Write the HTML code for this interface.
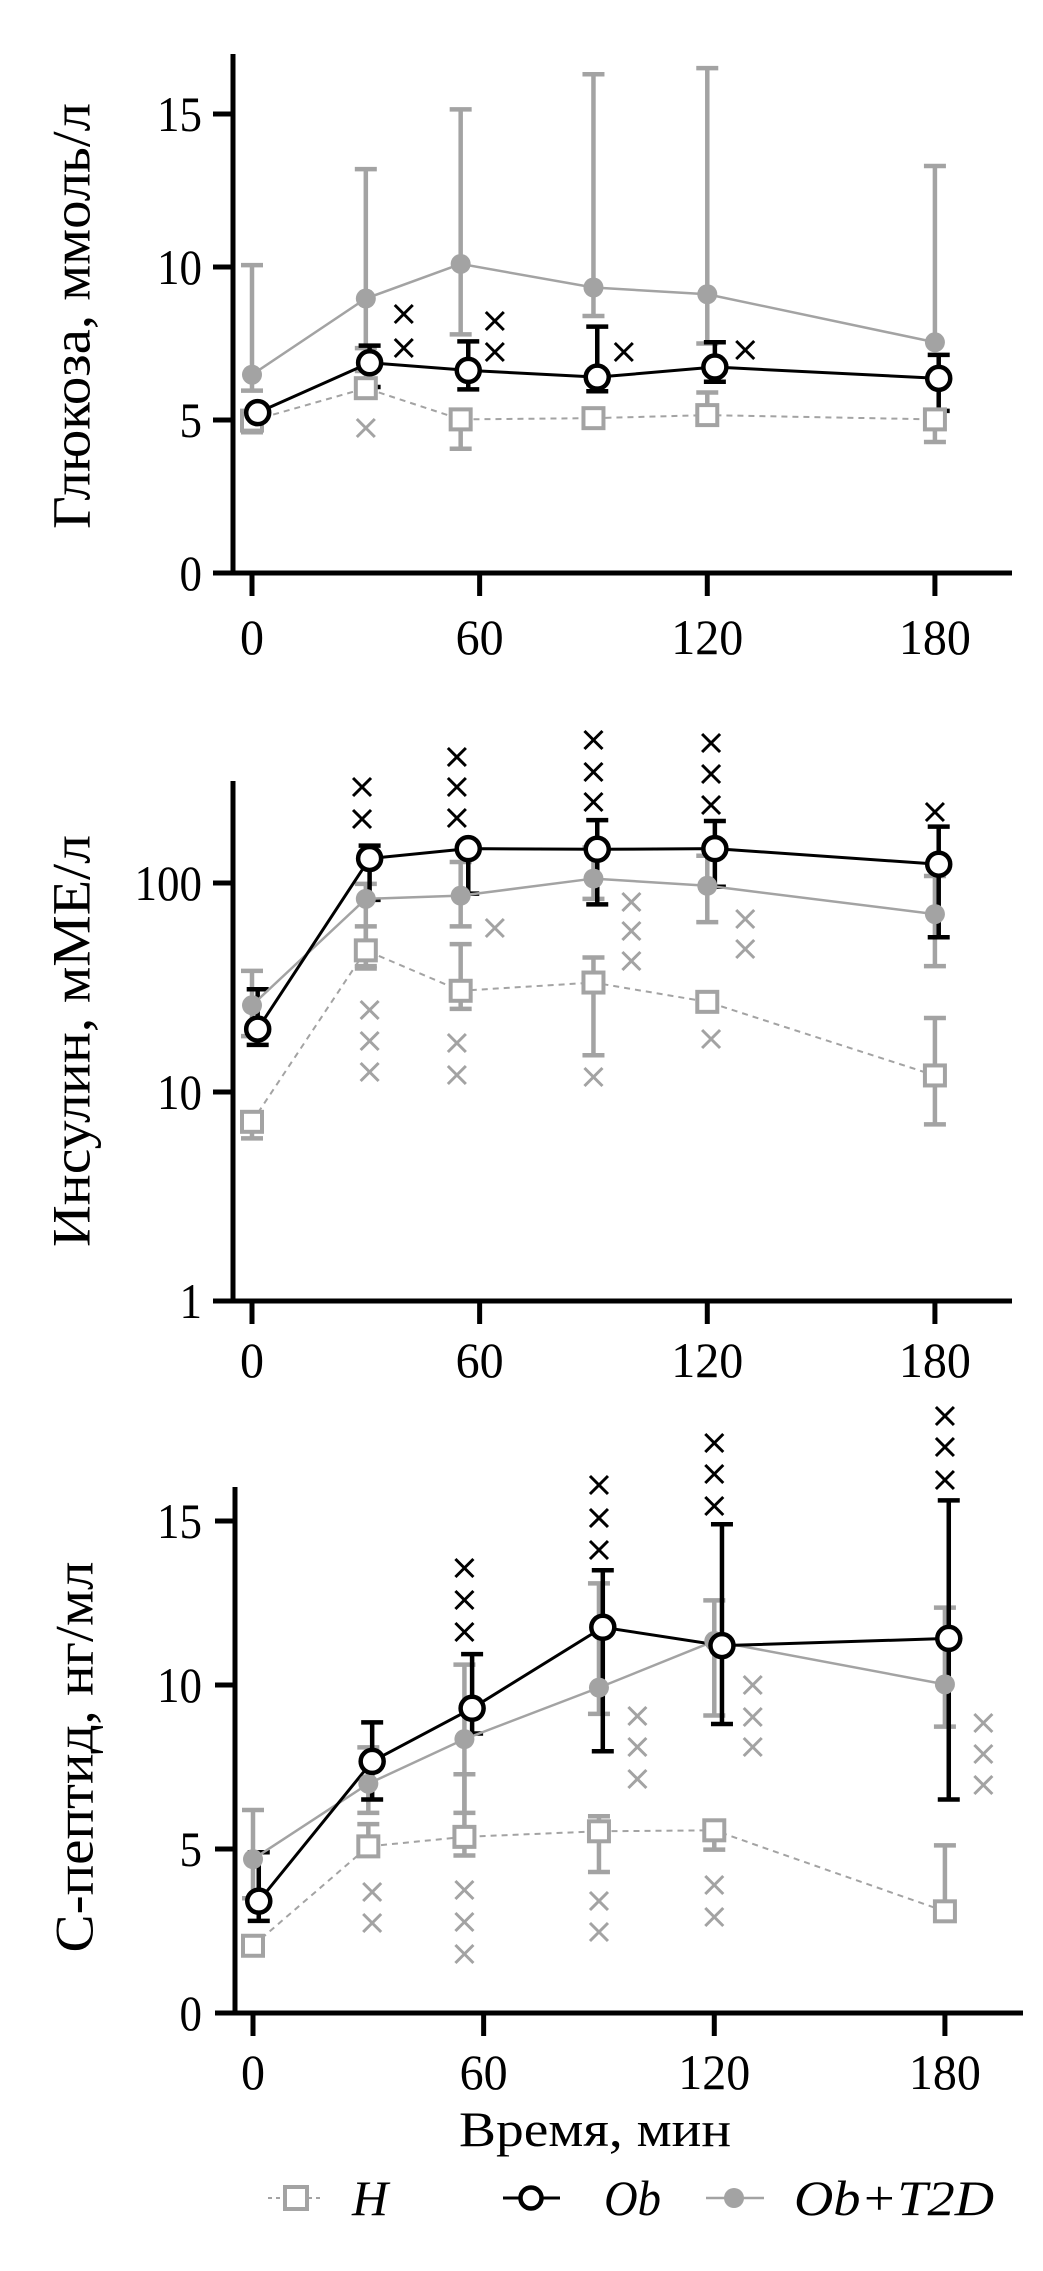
<!DOCTYPE html>
<html><head><meta charset="utf-8"><style>
html,body{margin:0;padding:0;background:#fff;}
svg{display:block;}
text{font-family:"Liberation Serif",serif;fill:#000;}
</style></head><body>
<svg id="chart" width="1043" height="2271" viewBox="0 0 1043 2271" xmlns="http://www.w3.org/2000/svg"></svg>
<script>
// ---- data ----
const timesH = [0,30,55,90,120,180];
const timesOb = [1.5,31,57,91,122,181];
const timesT = [0,30,55,90,120,180];
// glucose
const gluH = [4.98,6.04,5.02,5.06,5.16,5.02];
const gluHlo = [4.6,null,4.06,null,null,4.28];
const gluHhi = [null,6.6,null,null,5.9,null];
const gluOb = [5.24,6.87,6.62,6.4,6.73,6.36];
const gluOblo = [null,6.08,6.0,5.94,6.25,5.3];
const gluObhi = [null,7.43,7.57,8.05,7.54,7.13];
const gluT = [6.48,8.97,10.1,9.33,9.11,7.54];
const gluTlo = [5.96,7.35,7.8,8.4,7.5,null];
const gluThi = [10.06,13.2,15.15,16.3,16.5,13.3];
// insulin
const insH = [7.2,47.6,30.5,33.4,27,12];
const insHlo = [6,39,25,15,null,7];
const insHhi = [null,62,51,44,30,22.6];
const insOb = [20,131,146,145,146,123];
const insOblo = [16.8,83,89,79,96,55];
const insObhi = [31,151,null,200,198,186];
const insT = [26,84,87,105,97,71];
const insTlo = [18.5,40,62,84,65,40];
const insThi = [38,99,126,148,135,108];
// c-peptide
const cpH = [2.05,5.08,5.37,5.54,5.57,3.1];
const cpHlo = [null,null,4.8,4.3,4.98,null];
const cpHhi = [null,5.76,7.28,6.0,5.71,5.11];
const cpOb = [3.41,7.67,9.29,11.76,11.2,11.42];
const cpOblo = [2.81,6.51,8.52,7.98,8.81,6.51];
const cpObhi = [4.9,8.86,10.94,13.5,14.9,15.63];
const cpT = [4.69,6.99,8.35,9.92,11.34,10.02];
const cpTlo = [3.5,6.1,6.1,9.12,9.07,8.73];
const cpThi = [6.19,8.1,10.62,13.1,12.58,12.36];
const xTicks = [0,60,120,180];
const gluTicks = [0,5,10,15];
const insTicks = [1,10,100];
const cpTicks = [0,5,10,15];
const sig1Black = [[40,314],[40,348],[64,321],[64,352],[98,352],[130,350]];
const sig1Gray = [[30,428]];
const sig2Black = [[29,787],[29,819],[54,757],[54,787],[54,818],[90,740],[90,772],[90,802],[121,743],[121,774],[121,805],[180,812]];
const sig2Gray = [[31,1010],[31,1041],[31,1072],[54,1043],[54,1075],[64,928],[90,1077],[100,902],[100,931],[100,961],[121,1039],[130,919],[130,949]];
const sig3Black = [[55,1568],[55,1600],[55,1632],[90,1485],[90,1518],[90,1550],[120,1443],[120,1474],[120,1506],[180,1416],[180,1447],[180,1480]];
const sig3Gray = [[31,1892],[31,1923],[55,1890],[55,1922],[55,1954],[90,1901],[90,1932],[100,1716],[100,1747],[100,1779],[120,1885],[120,1917],[130,1685],[130,1717],[130,1747],[190,1723],[190,1754],[190,1785]];

const NS='http://www.w3.org/2000/svg';
const svg=document.getElementById('chart');
const GRAY='#a3a3a3';
function mk(tag,attrs,parent){const e=document.createElementNS(NS,tag);for(const k in attrs)e.setAttribute(k,attrs[k]);(parent||svg).appendChild(e);return e;}

function panel(cfg){
  const g=mk('g',{});
  
  
  const X=t=>cfg.x0+cfg.xs*t;
  const Y=cfg.Y;
  const ya=mk('line',{x1:cfg.ax,y1:cfg.top,x2:cfg.ax,y2:cfg.ay+2.5,stroke:'#000','stroke-width':5},g);
  
  
  const xa=mk('line',{x1:cfg.ax-18,y1:cfg.ay,x2:cfg.right,y2:cfg.ay,stroke:'#000','stroke-width':5},g);
  
  
  cfg.yticks.forEach(v=>{
    const y=Y(v);
    mk('line',{x1:cfg.ax-20,y1:y,x2:cfg.ax,y2:y,stroke:'#000','stroke-width':5},g);
    const t=mk('text',{x:202,y:y+17,'text-anchor':'end','font-size':50,textLength:String(v).length*22.5,lengthAdjust:'spacingAndGlyphs'},g);
    t.textContent=v;
    
    
  });
  xTicks.forEach(v=>{
    const x=X(v);
    mk('line',{x1:x,y1:cfg.ay,x2:x,y2:cfg.ay+23,stroke:'#000','stroke-width':5},g);
    const t=mk('text',{x:x,y:cfg.xly+17,'text-anchor':'middle','font-size':50,textLength:String(v).length*24,lengthAdjust:'spacingAndGlyphs'},g);
    t.textContent=v;
    
    
  });
  const yt=mk('text',{x:0,y:0,'text-anchor':'middle','font-size':54,transform:`translate(${cfg.tx},${cfg.ty}) rotate(-90)`,textLength:cfg.tlen,lengthAdjust:'spacingAndGlyphs','dominant-baseline':'middle'},g);
  yt.textContent=cfg.title;
  
  
  function errs(times,vals,lo,hi,color,nm){
    times.forEach((t,i)=>{
      const x=X(t), y=Y(vals[i]);
      [lo[i],hi[i]].forEach(b=>{
        if(b==null)return;
        const yb=Y(b);
        const l=mk('line',{x1:x,y1:y,x2:x,y2:yb,stroke:color,'stroke-width':4.5},g);
        
        
        mk('line',{x1:x-11,y1:yb,x2:x+11,y2:yb,stroke:color,'stroke-width':4.5},g);
      });
    });
  }
  errs(timesT,cfg.T,cfg.Tlo,cfg.Thi,GRAY,'t2d');
  errs(timesH,cfg.H,cfg.Hlo,cfg.Hhi,GRAY,'h');
  errs(timesOb,cfg.Ob,cfg.Oblo,cfg.Obhi,'#000','ob');
  const path=(ts,vs)=>ts.map((t,i)=>(i?'L':'M')+X(t)+','+Y(vs[i])).join(' ');
  const lh=mk('path',{d:path(timesH,cfg.H),fill:'none',stroke:GRAY,'stroke-width':2,'stroke-dasharray':'6,5'},g);
  
  
  const lt=mk('path',{d:path(timesT,cfg.T),fill:'none',stroke:GRAY,'stroke-width':2.5},g);
  
  
  const lo=mk('path',{d:path(timesOb,cfg.Ob),fill:'none',stroke:'#000','stroke-width':3},g);
  
  
  timesT.forEach((t,i)=>{
    const c=mk('circle',{cx:X(t),cy:Y(cfg.T[i]),r:10,fill:GRAY},g);
    
    
  });
  timesH.forEach((t,i)=>{
    const r=mk('rect',{x:X(t)-10,y:Y(cfg.H[i])-10,width:20,height:20,fill:'#fff',stroke:GRAY,'stroke-width':4},g);
    
    
  });
  timesOb.forEach((t,i)=>{
    const c=mk('circle',{cx:X(t),cy:Y(cfg.Ob[i]),r:11.5,fill:'#fff',stroke:'#000','stroke-width':4.5},g);
    
    
  });
  function crosses(list,color){
    list.forEach(([t,y])=>{
      const x=X(t);
      const p=mk('path',{d:`M${x-9},${y-9}L${x+9},${y+9}M${x+9},${y-9}L${x-9},${y+9}`,stroke:color,'stroke-width':3,fill:'none'},g);
      
      
    });
  }
  crosses(cfg.sb,'#000');
  crosses(cfg.sg,GRAY);
}

panel({name:'glucose-panel',x0:252,xs:3.794,ax:233,top:54,ay:573,right:1012,Y:v=>573-30.6*v,yticks:gluTicks,xly:637,
  tx:77,ty:316,tlen:426,title:'Глюкоза, ммоль/л',
  H:gluH,Hlo:gluHlo,Hhi:gluHhi,Ob:gluOb,Oblo:gluOblo,Obhi:gluObhi,T:gluT,Tlo:gluTlo,Thi:gluThi,sb:sig1Black,sg:sig1Gray});
panel({name:'insulin-panel',x0:252,xs:3.794,ax:233,top:781,ay:1301,right:1012,Y:v=>1301-209*Math.log10(v),yticks:insTicks,xly:1360,
  tx:77,ty:1041,tlen:412,title:'Инсулин, мМЕ/л',
  H:insH,Hlo:insHlo,Hhi:insHhi,Ob:insOb,Oblo:insOblo,Obhi:insObhi,T:insT,Tlo:insTlo,Thi:insThi,sb:sig2Black,sg:sig2Gray});
panel({name:'c-peptide-panel',x0:253,xs:3.844,ax:235,top:1487,ay:2013,right:1023,Y:v=>2013-32.8*v,yticks:cpTicks,xly:2072,
  tx:80,ty:1757,tlen:391,title:'С-пептид, нг/мл',
  H:cpH,Hlo:cpHlo,Hhi:cpHhi,Ob:cpOb,Oblo:cpOblo,Obhi:cpObhi,T:cpT,Tlo:cpTlo,Thi:cpThi,sb:sig3Black,sg:sig3Gray});

const xt=mk('text',{x:595,y:2146,'text-anchor':'middle','font-size':50,textLength:272,lengthAdjust:'spacingAndGlyphs'});
xt.textContent='Время, мин';



const lg=mk('g',{});


mk('line',{x1:268,y1:2198,x2:324,y2:2198,stroke:GRAY,'stroke-width':2,'stroke-dasharray':'4,4'},lg);
mk('rect',{x:285,y:2187,width:22,height:22,fill:'#fff',stroke:GRAY,'stroke-width':4},lg);
const t1=mk('text',{x:352,y:2215,'font-size':50,'font-style':'italic'},lg);t1.textContent='H';


mk('line',{x1:503,y1:2198,x2:560,y2:2198,stroke:'#000','stroke-width':3},lg);
mk('circle',{cx:531,cy:2198,r:10.5,fill:'#fff',stroke:'#000','stroke-width':4.5},lg);
const t2=mk('text',{x:604,y:2215,'font-size':50,'font-style':'italic',textLength:57,lengthAdjust:'spacingAndGlyphs'},lg);t2.textContent='Ob';


mk('line',{x1:706,y1:2198,x2:764,y2:2198,stroke:GRAY,'stroke-width':2.5},lg);
mk('circle',{cx:734,cy:2198,r:10,fill:GRAY},lg);
const t3=mk('text',{x:794,y:2215,'font-size':50,'font-style':'italic',textLength:200,lengthAdjust:'spacingAndGlyphs'},lg);t3.textContent='Ob+T2D';


</script>
</body></html>
